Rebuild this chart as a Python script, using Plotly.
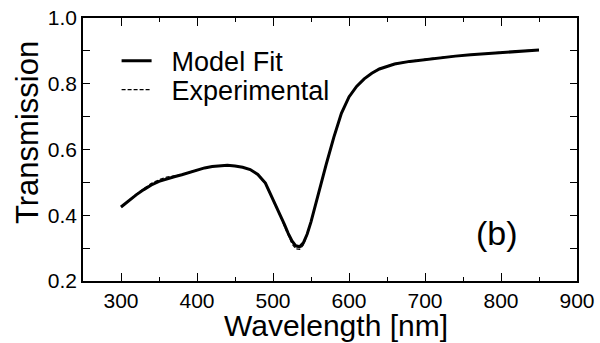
import plotly.graph_objects as go

wavelength = [300, 310, 320, 330, 340, 350, 360, 370, 380, 390, 400, 410, 420, 430, 440,
              450, 460, 470, 480, 490, 500, 505, 510, 515, 520, 525, 530, 535, 540, 545,
              550, 555, 560, 570, 580, 590, 600, 610, 620, 630, 640, 650, 660, 680, 700,
              720, 740, 760, 780, 800, 820, 840, 850]
model_fit = [0.425, 0.445, 0.462, 0.478, 0.492, 0.503, 0.511, 0.517, 0.523, 0.530, 0.538,
             0.544, 0.548, 0.551, 0.552, 0.550, 0.546, 0.539, 0.524, 0.498, 0.448, 0.426,
             0.400, 0.372, 0.345, 0.322, 0.307, 0.304, 0.316, 0.343, 0.380, 0.425, 0.470,
             0.555, 0.637, 0.710, 0.760, 0.792, 0.815, 0.832, 0.845, 0.853, 0.860, 0.868,
             0.874, 0.879, 0.884, 0.888, 0.891, 0.894, 0.897, 0.901, 0.903]
experimental = [0.425, 0.446, 0.464, 0.481, 0.497, 0.508, 0.516, 0.520, 0.524, 0.531, 0.538,
                0.544, 0.548, 0.551, 0.552, 0.550, 0.546, 0.539, 0.523, 0.496, 0.446, 0.423,
                0.396, 0.366, 0.338, 0.313, 0.298, 0.296, 0.310, 0.340, 0.379, 0.425, 0.471,
                0.557, 0.638, 0.711, 0.761, 0.793, 0.816, 0.833, 0.846, 0.854, 0.861, 0.869,
                0.875, 0.880, 0.884, 0.889, 0.892, 0.896, 0.898, 0.902, 0.904]

FONT = "Liberation Sans, Arial, Helvetica, sans-serif"
GAP = "\u00a0\u00a0"

fig = go.Figure()
fig.add_trace(go.Scatter(x=wavelength, y=model_fit, mode="lines", name=GAP + "Model Fit",
                         line=dict(color="black", width=3), legend="legend"))
fig.add_trace(go.Scatter(x=wavelength, y=experimental, mode="lines", name=GAP + "Experimental",
                         line=dict(color="black", width=1.2, dash="4px,2px"), legend="legend2"))

fig.add_annotation(text="(b)", x=795, y=0.345, xref="x", yref="y", showarrow=False,
                   font=dict(family=FONT, size=34, color="black"))
fig.add_annotation(text="Wavelength [nm]", x=0.512, y=-0.17, xref="paper", yref="paper",
                   xanchor="center", yanchor="middle", showarrow=False,
                   font=dict(family=FONT, size=30, color="black"))
fig.add_annotation(text="Transmission", x=-0.1134, y=0.5665, xref="paper", yref="paper",
                   xanchor="center", yanchor="middle", textangle=-90, showarrow=False,
                   font=dict(family=FONT, size=31, color="black"))

leg_common = dict(xanchor="left", yanchor="middle", bgcolor="rgba(0,0,0,0)",
                  font=dict(family=FONT, size=27, color="black"), itemwidth=30)
fig.update_layout(
    width=600, height=343,
    margin=dict(l=83, r=23, t=18, b=62),
    plot_bgcolor="white", paper_bgcolor="white",
    font=dict(family=FONT, color="black"),
    showlegend=True,
    legend=dict(x=0.068, y=0.836, **leg_common),
    legend2=dict(x=0.068, y=0.726, **leg_common),
)
fig.update_xaxes(
    range=[250, 900], dtick=100, tick0=300, showgrid=False, zeroline=False, automargin=False,
    showline=True, linecolor="black", linewidth=1.5, mirror="ticks",
    ticks="inside", ticklen=8, tickwidth=1.2, tickcolor="black",
    minor=dict(ticks="inside", ticklen=4, dtick=50, tick0=250, tickwidth=1.2, tickcolor="black"),
    tickfont=dict(family=FONT, size=21, color="black"),
)
fig.update_yaxes(
    range=[0.2, 1.0], dtick=0.2, tick0=0.2, tickformat=".1f", showgrid=False, zeroline=False,
    automargin=False,
    showline=True, linecolor="black", linewidth=1.5, mirror="ticks",
    ticks="inside", ticklen=7, tickwidth=1.2, tickcolor="black",
    minor=dict(ticks="inside", ticklen=7, dtick=0.1, tickwidth=1.2, tickcolor="black"),
    tickfont=dict(family=FONT, size=21, color="black"),
)

fig.write_html("out.html")
